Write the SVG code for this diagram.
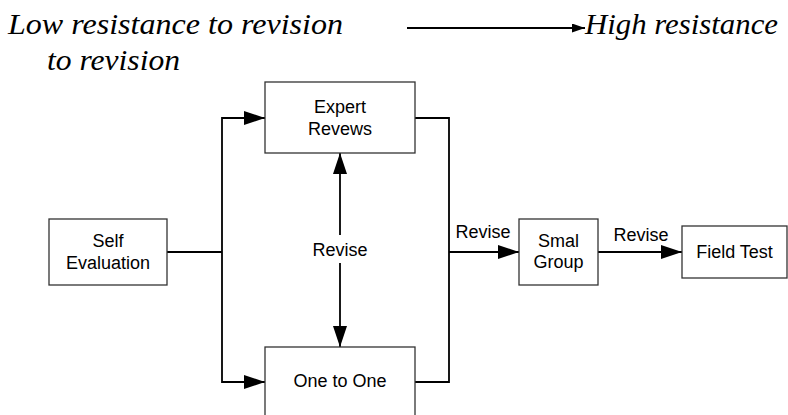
<svg xmlns="http://www.w3.org/2000/svg" width="788" height="415" viewBox="0 0 788 415">
<style>
.box{fill:#fff;stroke:#333;stroke-width:1.3}
.t{font-family:"Liberation Sans",Arial,sans-serif;font-size:18px;fill:#000;text-anchor:middle}
.h{font-family:'Liberation Serif','DejaVu Serif',serif;font-style:italic;font-size:30px;fill:#000}
.c{fill:none;stroke:#000;stroke-width:1.8}
</style>
<defs>
<marker id="ah" markerUnits="userSpaceOnUse" markerWidth="22" markerHeight="16" refX="21" refY="7" orient="auto">
<path d="M0,0 L21,7 L0,14 Z" fill="#000"/>
</marker>
<marker id="ahs" markerUnits="userSpaceOnUse" markerWidth="14" markerHeight="10" refX="13" refY="4.5" orient="auto">
<path d="M0,0 L13,4.5 L0,9 Z" fill="#000"/>
</marker>
</defs>
<g id="header">
<text class="h" x="8" y="34" textLength="335" lengthAdjust="spacingAndGlyphs">Low resistance to revision</text>
<text class="h" x="47" y="70" textLength="133" lengthAdjust="spacingAndGlyphs">to revision</text>
<text class="h" x="585" y="34" textLength="193" lengthAdjust="spacingAndGlyphs">High resistance</text>
</g>
<g id="connectors">
<line class="c" x1="407" y1="28" x2="585" y2="28" marker-end="url(#ahs)"/>
<polyline class="c" points="167,252 222,252"/>
<polyline class="c" points="222,252 222,118 265,118" marker-end="url(#ah)"/>
<polyline class="c" points="222,252 222,382 265,382" marker-end="url(#ah)"/>
<line class="c" x1="340" y1="235" x2="340" y2="153" marker-end="url(#ah)"/>
<line class="c" x1="340" y1="263" x2="340" y2="347" marker-end="url(#ah)"/>
<polyline class="c" points="415,118 449,118 449,382 415,382"/>
<line class="c" x1="449" y1="252" x2="519" y2="252" marker-end="url(#ah)"/>
<line class="c" x1="598" y1="252" x2="682" y2="252" marker-end="url(#ah)"/>
<text class="t" x="340" y="256">Revise</text>
<text class="t" x="483" y="238">Revise</text>
<text class="t" x="641" y="241">Revise</text>
</g>
<g id="self-evaluation">
<rect class="box" x="49" y="219" width="118" height="66"/>
<text class="t" x="108" y="247">Self</text>
<text class="t" x="108" y="269">Evaluation</text>
</g>
<g id="expert-reviews">
<rect class="box" x="265" y="82" width="150" height="71"/>
<text class="t" x="340" y="113">Expert</text>
<text class="t" x="340" y="135">Revews</text>
</g>
<g id="one-to-one">
<rect class="box" x="265" y="347" width="150" height="76"/>
<text class="t" x="340" y="387">One to One</text>
</g>
<g id="small-group">
<rect class="box" x="519" y="219" width="79" height="66"/>
<text class="t" x="558.5" y="247">Smal</text>
<text class="t" x="558.5" y="268">Group</text>
</g>
<g id="field-test">
<rect class="box" x="682" y="226" width="105" height="52"/>
<text class="t" x="734.5" y="258">Field Test</text>
</g>
</svg>
